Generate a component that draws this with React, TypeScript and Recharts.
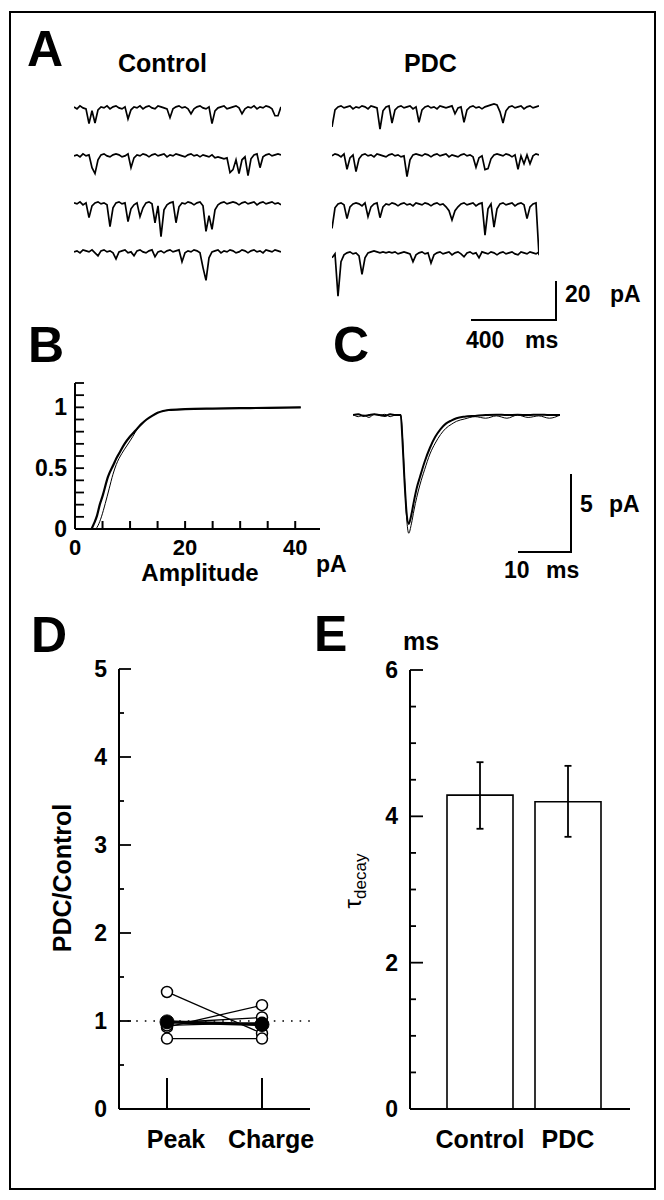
import React from 'react';
import { LineChart, Line, XAxis, YAxis, BarChart, Bar, ErrorBar, ReferenceLine } from 'recharts';

const FONT = '"Liberation Sans", Arial, Helvetica, sans-serif';

// ---------- Panel A: example traces (pA), one sample every ~14.5 ms over ~1 s ----------
const controlTrace1 = [0.5,-0.5,1,0,-0.5, -8,-1.5,-7.7,-1,0.5, 0,1,-0.5,0.5,1, 0,-0.5,0.5,-5.6,-1, 0.5,0,1,-0.5,0.5, 1,0,-0.5,1,0.5, 0,-0.5,-5,-0.5,0.5, 1,0,0.5,-0.5,-3, -0.5,0.5,1,0,-0.5, 0.5,-8,-1.5,0,0.5, 1,-0.5,0,0.5,1, 0,-3,-0.5,0.5,0, 1,-0.5,0.5,0,1, 0.5,-0.5,-4,-4,0.5];
const controlTrace2 = [0,0.5,-0.5,1,0, 0.5,-6,-9,-2,0.5, 1,0,-0.5,0.5,1, 0.5,-0.5,0,1,-6, -1,0.5,0,1,0.5, -0.5,0.5,1,0,0.5, 1,-0.5,0.5,0,1, 0.5,0,-0.5,0.5,1, 0,0.5,-0.5,0.5,0, -0.5,0.5,-1,-0.5,-1, -1.5,-1,-8.5,-7,-2, -9,-2,-0.5,-10,-1.5, 0.5,1,-6,-0.5,0.5, 1,0,0.5,1,0.5];
const controlTrace3 = [0.5,0,1,-0.5,0.5, -7,-1,0.5,1,0, 0.5,-0.5,-11.6,-2,0.5, 1,0,0.5,-9,-2.5, -0.5,0.5,-6.5,-2,0.5, 1,0,-9.6,-1,-16.7, -3,-0.5,0.5,1,-9.6, -1.5,0.5,0,1,0.5, -0.5,0.5,1,-1,-14, -6,-13,-3,-0.5,0.5, 1,0,0.5,1,0.5, -0.5,0.5,1,0,0.5, 1,-0.5,0.5,1,0, 0.5,1,0,0.5,-0.5];
const controlTrace4 = [0,0.5,-0.5,1,0.5, 0,1,-0.5,-2,0.5, 1,0,0.5,-0.5,-3.6, 0,0.5,1,-0.5,0, -2,0.5,1,0,-0.5, 0.5,1,-2.5,0,0.5, -0.5,0.5,1,0,0.5, 1,-5,-0.5,0.5,0, 1,0.5,-0.5,-8,-14.5, -3,0,0.5,1,-0.5, 0.5,0,1,0.5,-0.5, 0,1,0.5,-0.5,0.5, 1,0,0.5,-0.5,1, 0.5,0,1,0.5,0];
const pdcTrace1 = [-9.7,-1,0.5,1,0, 0.5,1,-0.5,0.5,0, 1,0.5,-0.5,1,0.5, 0,-10.8,-1.5,0.5,1, -7.7,-1,0.5,1,0, 0.5,1,-0.5,0.5,-7.3, -1,0.5,1,0,0.5, -0.5,1,0.5,0,0.5, 1,-3,0,0.5,-7.3, -1,0.5,1,0,0.5, -0.5,0.5,1,1.5,2, 1.5,-2,-7.7,-1.5,0.5, 1,0,0.5,1,-0.5, 0.5,1,0,0.5,1];
const pdcTrace2 = [0,1,0.5,-0.5,1, -6.8,-1,0.5,-8,-1.5, 0.5,1,0,0.5,-0.5, 1,0.5,0,-0.5,0.5, 1,0,0.5,-0.5,0, -10.6,-2,0.5,1,0.5, 0,1,0.5,-0.5,0.5, 1,0,0.5,1,-0.5, 0.5,0,-0.5,0.5,1, 0,0.5,-0.5,-5.8,-1, 0,-7,-6.5,-1.5,0.5, 1,0.5,0,1,0.5, -0.5,0.5,-6.8,0,-4, 0.5,-4,0,1,0.5];
const pdcTrace3 = [-12,-1.5,0.5,1,0, -7,-1,0.5,1,0.5, -0.5,1,-6,-1,0.5, 1,-6.5,-1,0.5,0, 1,0.5,-0.5,0.5,1, 0,0.5,-0.5,1,0.5, 0,1,0.5,-0.5,0.5, 1,0,0.5,-1,-3, -7.7,-3,-1,0.5,1, 0,0.5,1,-0.5,0.5, 1,-15.4,-2,0.5,-11.3, -2,0.5,1,0,0.5, 1,-0.5,0.5,1,0, -7,-1,0.5,1,-25.6];
const pdcTrace4 = [-2,0,-21.5,-4,-0.5, 0.5,1,0,0.5,-1, -10.4,-2,0.5,1,1.5, 1,0.5,1,0.5,1, 0.5,1,0,0.5,1, 0.5,0,-4,-0.5,0.5, 1,0,0.5,-4.7,-0.5, 0.5,1,0,0.5,1, -0.5,0.5,1,0,-1.5, 0.5,1,0,0.5,-2, 1,0.5,0,1,0.5, -0.5,0.5,1,0,0.5, 1,0,-0.5,1,0.5, 0,1,0.5,0,1];

// ---------- Panel B: cumulative amplitude distributions ----------
const cdfControlAmp = [3,3.5,4,4.5,5,6,7,7.5,8,9,10,11,12,13,14,15,16,17,20,25,30,35,41];
const cdfControlFrac = [0,0.05,0.11,0.2,0.27,0.43,0.53,0.58,0.62,0.7,0.76,0.81,0.86,0.9,0.93,0.955,0.97,0.978,0.985,0.99,0.993,0.996,1.0];
const cdfPdcAmp = [3.8,4.2,4.8,5.5,6.2,6.9,7.5,8.5,9.5,10.5,11,12,13,14,15,16,17,20,25,30,35,41];
const cdfPdcFrac = [0,0.03,0.1,0.21,0.33,0.45,0.53,0.62,0.69,0.76,0.8,0.86,0.9,0.93,0.955,0.97,0.978,0.985,0.99,0.993,0.996,1.0];
const bXTicks = [0,5,10,15,20,25,30,35,40];
const bXMajor = [0,20,40];
const bYTicks = [0,0.1,0.2,0.3,0.4,0.5,0.6,0.7,0.8,0.9,1,1.1,1.2];
const bYMajor = [0,0.5,1];

// ---------- Panel C: averaged events (pA vs ms) ----------
const avgTime = [0,1,2,3,4,5,6,7,8,9,9.3,9.7,10.1,10.5,11,11.5,12,12.6,13.5,14.5,15.5,16.5,17.5,18.5,19.5,21,23,25,27,29,31,33,35,37,39];
const avgControl = [0,0.05,-0.05,0,0.05,0,-0.05,0.05,0,0,-1.5,-4.2,-6.3,-7.0,-6.4,-5.5,-4.7,-4.0,-3.0,-2.1,-1.4,-0.9,-0.55,-0.35,-0.2,-0.1,-0.05,0,0.03,0,0.02,0,0.03,0,0];
const avgPdc = [0.05,-0.1,0,-0.15,0.05,0,0.05,-0.1,0,0,-1.3,-4.0,-6.6,-7.6,-7.0,-6.1,-5.3,-4.5,-3.5,-2.5,-1.8,-1.25,-0.85,-0.6,-0.4,-0.25,-0.1,-0.2,-0.05,-0.2,0,-0.15,-0.05,-0.2,0];

// ---------- Panel D: PDC/Control ratios ----------
const dCategories = ['Peak', 'Charge'];
const cell1 = [1.33, 0.86];
const cell2 = [0.93, 1.18];
const cell3 = [0.80, 0.80];
const cell4 = [0.98, 1.04];
const cell5 = [0.95, 0.98];
const meanRatio = [0.99, 0.96];
const dYTicks = [0,0.5,1,1.5,2,2.5,3,3.5,4,4.5,5];
const dYMajor = [0,1,2,3,4,5];

// ---------- Panel E: decay time constants ----------
const eCategories = ['Control', 'PDC'];
const eTau = [4.29, 4.20];
const eErrLow = [0.46, 0.48];
const eErrHigh = [0.45, 0.49];
const eYTicks = [0,0.5,1,1.5,2,2.5,3,3.5,4,4.5,5,5.5,6];
const eYMajor = [0,2,4,6];

const txt = { fontFamily: FONT, fontWeight: 700, fill: '#000' } as const;

function Trace({ values, left, baseline }: { values: number[]; left: number; baseline: number }) {
  const data = values.map((v, i) => ({ t: i, v }));
  const H = 59;
  const top = baseline - 4 * (H / 30);
  return (
    <div style={{ position: 'absolute', left, top }}>
      <LineChart width={207} height={H} data={data} margin={{ top: 0, right: 0, bottom: 0, left: 0 }}>
        <XAxis dataKey="t" type="number" domain={[0, 69]} hide />
        <YAxis type="number" domain={[-26, 4]} hide />
        <Line type="linear" dataKey="v" stroke="#000" strokeWidth={1.7} dot={false} isAnimationActive={false} />
      </LineChart>
    </div>
  );
}

const fmt = (v: number) => String(v);

const makeXTick = (majors: any[] | null, len: number, labelDy: number, fontSize: number, dx = 0) => (props: any) => {
  const { x, y, payload } = props;
  const major = majors === null || majors.includes(payload.value);
  return (
    <g>
      {len > 0 && <line x1={x} y1={y} x2={x} y2={y - len} stroke="#000" strokeWidth={2} />}
      {major && (
        <text x={x + dx} y={y + labelDy} textAnchor="middle" fontSize={fontSize} {...txt}>
          {fmt(payload.value)}
        </text>
      )}
    </g>
  );
};

const makeYTick = (majors: number[], majorLen: number, minorLen: number, gap: number, fontSize: number) => (props: any) => {
  const { x, y, payload } = props;
  const major = majors.includes(payload.value);
  return (
    <g>
      <line x1={x} y1={y} x2={x + (major ? majorLen : minorLen)} y2={y} stroke="#000" strokeWidth={1.8} />
      {major && (
        <text x={x - gap} y={y + 8} textAnchor="end" fontSize={fontSize} {...txt}>
          {fmt(payload.value)}
        </text>
      )}
    </g>
  );
};

export default function App() {
  const cdfControl = cdfControlAmp.map((x, i) => ({ x, y: cdfControlFrac[i] }));
  const cdfPdc = cdfPdcAmp.map((x, i) => ({ x, y: cdfPdcFrac[i] }));
  const avgC = avgTime.map((t, i) => ({ t, v: avgControl[i] }));
  const avgP = avgTime.map((t, i) => ({ t, v: avgPdc[i] }));
  const dData = dCategories.map((cat, i) => ({
    cat, c1: cell1[i], c2: cell2[i], c3: cell3[i], c4: cell4[i], c5: cell5[i], mean: meanRatio[i],
  }));
  const eData = eCategories.map((cat, i) => ({ cat, tau: eTau[i], err: [eErrLow[i], eErrHigh[i]] }));
  const openDot = { r: 5.5, fill: '#fff', stroke: '#000', strokeWidth: 1.5 };
  const axisLine = { stroke: '#000', strokeWidth: 2 };

  return (
    <div style={{ position: 'absolute', left: 0, top: 0, width: 664, height: 1200, background: '#fff', fontFamily: FONT }}>
      {/* Panel A */}
      <Trace values={controlTrace1} left={74} baseline={108} />
      <Trace values={controlTrace2} left={74} baseline={156} />
      <Trace values={controlTrace3} left={74} baseline={204} />
      <Trace values={controlTrace4} left={74} baseline={252} />
      <Trace values={pdcTrace1} left={332} baseline={108} />
      <Trace values={pdcTrace2} left={332} baseline={156} />
      <Trace values={pdcTrace3} left={332} baseline={205} />
      <Trace values={pdcTrace4} left={332} baseline={254} />

      {/* Panel B */}
      <div style={{ position: 'absolute', left: 10, top: 370 }}>
        <LineChart width={340} height={220} margin={{ top: 13, right: 30, bottom: 0, left: 0 }}>
          <XAxis dataKey="x" type="number" domain={[0, 44.5]} ticks={bXTicks} interval={0} height={61}
            axisLine={axisLine} tickLine={false} tickSize={0} tickMargin={0}
            tick={makeXTick(bXMajor, 8, 26, 22)} allowDataOverflow />
          <YAxis type="number" domain={[0, 1.2]} ticks={bYTicks} interval={0} width={65}
            axisLine={axisLine} tickLine={false} tickSize={0} tickMargin={0}
            tick={makeYTick(bYMajor, 9, 9, 8, 23)} />
          <Line data={cdfPdc} dataKey="y" type="monotone" stroke="#000" strokeWidth={1} dot={false} isAnimationActive={false} />
          <Line data={cdfControl} dataKey="y" type="monotone" stroke="#000" strokeWidth={2.2} dot={false} isAnimationActive={false} />
        </LineChart>
      </div>

      {/* Panel C */}
      <div style={{ position: 'absolute', left: 353, top: 405 }}>
        <LineChart width={207} height={136} margin={{ top: 0, right: 0, bottom: 0, left: 0 }}>
          <XAxis dataKey="t" type="number" domain={[0, 39]} hide />
          <YAxis type="number" domain={[-8.1, 0.65]} hide />
          <Line data={avgP} dataKey="v" type="monotone" stroke="#000" strokeWidth={1} dot={false} isAnimationActive={false} />
          <Line data={avgC} dataKey="v" type="monotone" stroke="#000" strokeWidth={2} dot={false} isAnimationActive={false} />
        </LineChart>
      </div>

      {/* Panel D */}
      <div style={{ position: 'absolute', left: 0, top: 640 }}>
        <LineChart width={340} height={530} data={dData} margin={{ top: 29, right: 30, bottom: 0, left: 0 }}>
          <XAxis dataKey="cat" type="category" height={61} axisLine={axisLine} tickLine={false} tickSize={0} tickMargin={0}
            interval={0} padding={{ left: 48, right: 48 }} tick={makeXTick(null, 31, 39, 25, 9)} />
          <YAxis type="number" domain={[0, 5]} ticks={dYTicks} interval={0} width={119}
            axisLine={axisLine} tickLine={false} tickSize={0} tickMargin={0}
            tick={makeYTick(dYMajor, 12, 5, 12, 23)} />
          <ReferenceLine y={1} stroke="#000" strokeWidth={1.6} strokeDasharray="1.6 7" />
          <Line dataKey="c1" type="linear" stroke="#000" strokeWidth={1.3} dot={openDot} isAnimationActive={false} />
          <Line dataKey="c2" type="linear" stroke="#000" strokeWidth={1.3} dot={openDot} isAnimationActive={false} />
          <Line dataKey="c3" type="linear" stroke="#000" strokeWidth={1.3} dot={openDot} isAnimationActive={false} />
          <Line dataKey="c4" type="linear" stroke="#000" strokeWidth={1.3} dot={openDot} isAnimationActive={false} />
          <Line dataKey="c5" type="linear" stroke="#000" strokeWidth={1.3} dot={openDot} isAnimationActive={false} />
          <Line dataKey="mean" type="linear" stroke="#000" strokeWidth={3.2} dot={{ r: 7, fill: '#000', stroke: '#000', strokeWidth: 1 }} isAnimationActive={false} />
        </LineChart>
      </div>

      {/* Panel E */}
      <div style={{ position: 'absolute', left: 330, top: 640 }}>
        <BarChart width={320} height={530} data={eData} margin={{ top: 30, right: 20, bottom: 0, left: 0 }} barSize={66}>
          <XAxis dataKey="cat" type="category" height={61} axisLine={axisLine} tickLine={false} tickSize={0} tickMargin={0}
            interval={0} padding={{ left: 26, right: 18 }} tick={makeXTick(null, 0, 39, 25, 0)} />
          <YAxis type="number" domain={[0, 6]} ticks={eYTicks} interval={0} width={80}
            axisLine={axisLine} tickLine={false} tickSize={0} tickMargin={0}
            tick={makeYTick(eYMajor, 13, 6, 12, 23)} />
          <Bar dataKey="tau" fill="#fff" stroke="#000" strokeWidth={1.6} isAnimationActive={false}>
            <ErrorBar dataKey="err" direction="y" width={3.5} stroke="#000" strokeWidth={1.8} />
          </Bar>
        </BarChart>
      </div>

      {/* Annotations */}
      <svg width={664} height={1200} style={{ position: 'absolute', left: 0, top: 0, pointerEvents: 'none' }}>
        <rect x={10} y={12} width={645} height={1177} fill="none" stroke="#000" strokeWidth={2} />
        <text x={27} y={66} fontSize={50} {...txt}>A</text>
        <text x={118} y={72} fontSize={25} {...txt}>Control</text>
        <text x={404} y={72} fontSize={25} {...txt}>PDC</text>
        <polyline points="471,320 556,320 556,281" fill="none" stroke="#000" strokeWidth={2} />
        <text x={565} y={302} fontSize={23} {...txt}>20</text>
        <text x={610} y={302} fontSize={23} {...txt}>pA</text>
        <text x={466} y={348} fontSize={23} {...txt}>400</text>
        <text x={525} y={348} fontSize={23} {...txt}>ms</text>

        <text x={28} y={362} fontSize={50} {...txt}>B</text>
        <text x={333} y={362} fontSize={50} {...txt}>C</text>
        <text x={200} y={581} fontSize={24} textAnchor="middle" {...txt}>Amplitude</text>
        <text x={316} y={572} fontSize={23} {...txt}>pA</text>

        <polyline points="518,552 571,552 571,474" fill="none" stroke="#000" strokeWidth={2} />
        <text x={580} y={512} fontSize={23} {...txt}>5</text>
        <text x={609} y={512} fontSize={23} {...txt}>pA</text>
        <text x={504} y={578} fontSize={23} {...txt}>10</text>
        <text x={546} y={578} fontSize={23} {...txt}>ms</text>

        <text x={31} y={652} fontSize={50} {...txt}>D</text>
        <text x={314} y={651} fontSize={50} {...txt}>E</text>
        <text x={403} y={650} fontSize={25} {...txt}>ms</text>

        <text transform="translate(71,878) rotate(-90)" x={0} y={0} textAnchor="middle" fontSize={25} {...txt}>PDC/Control</text>
        <text transform="translate(361,881) rotate(-90)" x={0} y={0} textAnchor="middle" fontFamily={FONT} fill="#000">
          <tspan fontSize={24}>τ</tspan>
          <tspan fontSize={17} dy={5}>decay</tspan>
        </text>
      </svg>
    </div>
  );
}
